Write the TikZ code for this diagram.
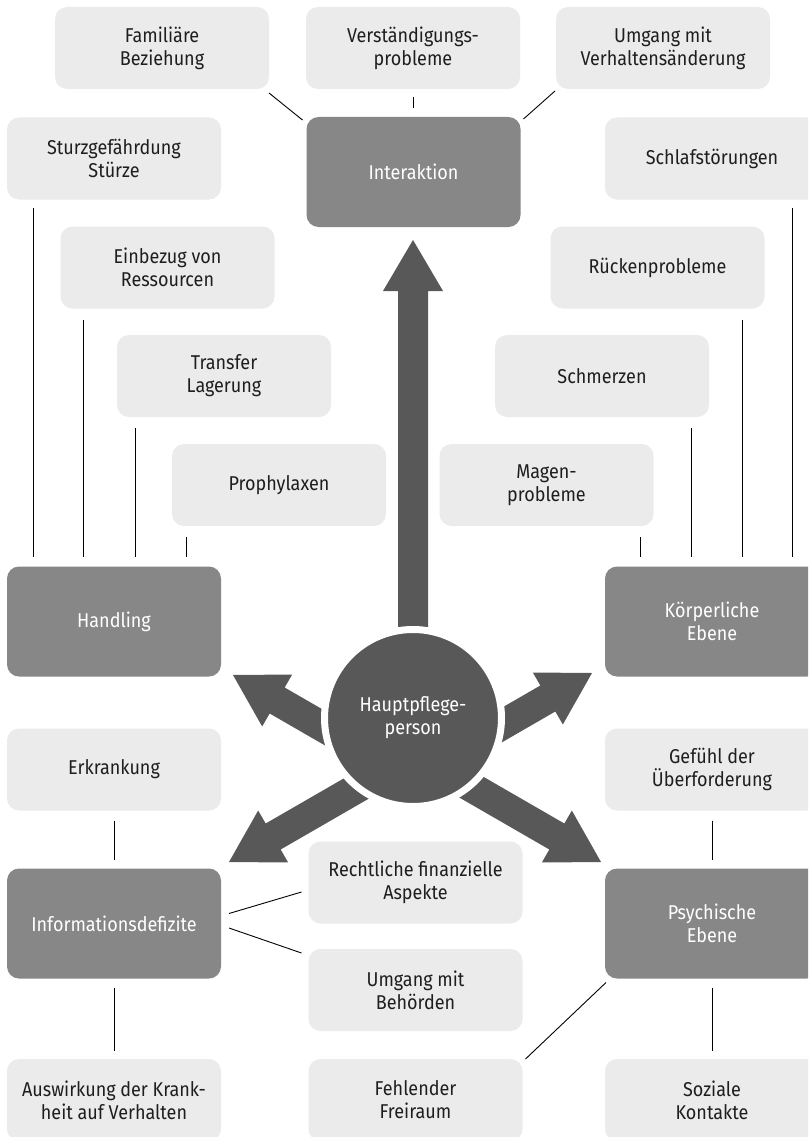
\documentclass[tikz,border=0pt]{standalone}
\usepackage{fontspec}
\setmainfont[FakeStretch=0.9]{Fira Sans}
\definecolor{arrowgray}{HTML}{585858}
\definecolor{boxdark}{HTML}{878787}
\definecolor{boxlight}{HTML}{EBEBEB}
\definecolor{textdark}{HTML}{1E1E1E}
\newcommand\blockarr[3]{\fill[arrowgray,shift={(#1)},rotate=#2] (0,0) -- (51,30) -- (51,15) -- (#3,15) -- (#3,-15) -- (51,-15) -- (51,-30) -- cycle;}
\begin{document}
\begin{tikzpicture}[x=1pt,y=-1pt,
  every node/.style={font=\fontsize{20}{23}\selectfont, align=center, inner sep=0pt, outer sep=0pt},
  lbox/.style={rounded corners=12pt, fill=boxlight, text=textdark, minimum width=214pt, minimum height=82pt},
  dbox/.style={rounded corners=12pt, fill=boxdark, text=white, minimum width=214pt, minimum height=110pt},
  conn/.style={draw=black, line width=0.9pt},
]
\useasboundingbox (0,0) rectangle (808,1137);
\clip (0,0) rectangle (808,1137);
\fill[white] (0,0) rectangle (808,1137);

% boxes
\node[lbox] (fam) at (162,48) {Familiäre\\Beziehung};
\node[lbox] (verst) at (413,48) {Verständigungs-\\probleme};
\node[lbox] (umg) at (663,48) {Umgang mit\\Verhaltensänderung};
\node[dbox] (inter) at (413.5,172) {Interaktion};
\node[lbox] (sturz) at (114,158.5) {Sturzgefährdung\\Stürze};
\node[lbox] (schlaf) at (712,158.5) {Schlafstörungen};
\node[lbox] (einb) at (167.5,267.5) {Einbezug von\\Ressourcen};
\node[lbox] (rueck) at (657.5,267.5) {Rückenprobleme};
\node[lbox] (transfer) at (224,376) {Transfer\\Lagerung};
\node[lbox] (schmerz) at (602,376) {Schmerzen};
\node[lbox] (prophy) at (279,485) {Prophylaxen};
\node[lbox] (magen) at (546.5,485) {Magen-\\probleme};
\node[dbox] (handling) at (114,621.5) {Handling};
\node[dbox] (koerper) at (712,621.5) {Körperliche\\Ebene};
\node[lbox] (erkr) at (114,769.5) {Erkrankung};
\node[lbox] (gefuehl) at (712,769.5) {Gefühl der\\Überforderung};
\node[dbox] (info) at (114,923.5) {Informationsdefizite};
\node[dbox] (psych) at (712,923.5) {Psychische\\Ebene};
\node[lbox] (recht) at (415.5,882.5) {Rechtliche finanzielle\\Aspekte};
\node[lbox] (behoerden) at (415.5,990) {Umgang mit\\Behörden};
\node[lbox] (ausw) at (114,1100) {Auswirkung der Krank-\\heit auf Verhalten};
\node[lbox] (fehlend) at (415.5,1100) {Fehlender\\Freiraum};
\node[lbox] (sozial) at (712,1100) {Soziale\\Kontakte};

% block arrows
\blockarr{413,240}{-90}{478}
\blockarr{233,675}{-30}{177}
\blockarr{592,673}{210}{177}
\blockarr{229,862}{30}{231}
\blockarr{601,862}{150}{231}

% centre circle
\node[circle, fill=arrowgray, draw=white, line width=7pt, minimum size=177pt, text=white] (hpp) at (413,718) {Hauptpflege-\\person};

% connectors top
\draw[conn] ([shift={(0,4)}]fam.south east) -- ([shift={(-4,3)}]inter.north west);
\draw[conn, shorten <=8pt, shorten >=9pt] (verst.south) -- (verst.south |- inter.north);
\draw[conn] ([shift={(-1,2)}]umg.south west) -- ([shift={(3,2)}]inter.north east);

% connectors to Handling
\draw[conn, shorten >=10pt] ([shift={(26,8)}]sturz.south west) coordinate (c1) -- (c1 |- handling.north);
\draw[conn, shorten >=10pt] ([shift={(23,11)}]einb.south west) coordinate (c2) -- (c2 |- handling.north);
\draw[conn, shorten >=10pt] ([shift={(18,11)}]transfer.south west) coordinate (c3) -- (c3 |- handling.north);
\draw[conn, shorten >=10pt] ([shift={(14,11)}]prophy.south west) coordinate (c4) -- (c4 |- handling.north);

% connectors to Koerperliche Ebene
\draw[conn, shorten >=10pt] ([shift={(-27,8)}]schlaf.south east) coordinate (c5) -- (c5 |- koerper.north);
\draw[conn, shorten >=10pt] ([shift={(-22.5,11)}]rueck.south east) coordinate (c6) -- (c6 |- koerper.north);
\draw[conn, shorten >=10pt] ([shift={(-18,11)}]schmerz.south east) coordinate (c7) -- (c7 |- koerper.north);
\draw[conn, shorten >=10pt] ([shift={(-13.5,11)}]magen.south east) coordinate (c8) -- (c8 |- koerper.north);

% lower connectors
\draw[conn, shorten <=10pt, shorten >=9pt] (erkr.south) -- (info.north);
\draw[conn, shorten <=9pt, shorten >=8pt] (info.south) -- (ausw.north);
\draw[conn, shorten <=10pt, shorten >=9pt] (gefuehl.south) -- (psych.north);
\draw[conn, shorten <=9pt, shorten >=8pt] (psych.south) -- (sozial.north);
\draw[conn] ([shift={(8,-10)}]info.east) -- ([shift={(-7,9.5)}]recht.west);
\draw[conn] ([shift={(8,4.5)}]info.east) -- ([shift={(-7,4)}]behoerden.north west);
\draw[conn] ([shift={(1,4)}]psych.south west) -- ([shift={(3,0)}]fehlend.north east);
\end{tikzpicture}
\end{document}
